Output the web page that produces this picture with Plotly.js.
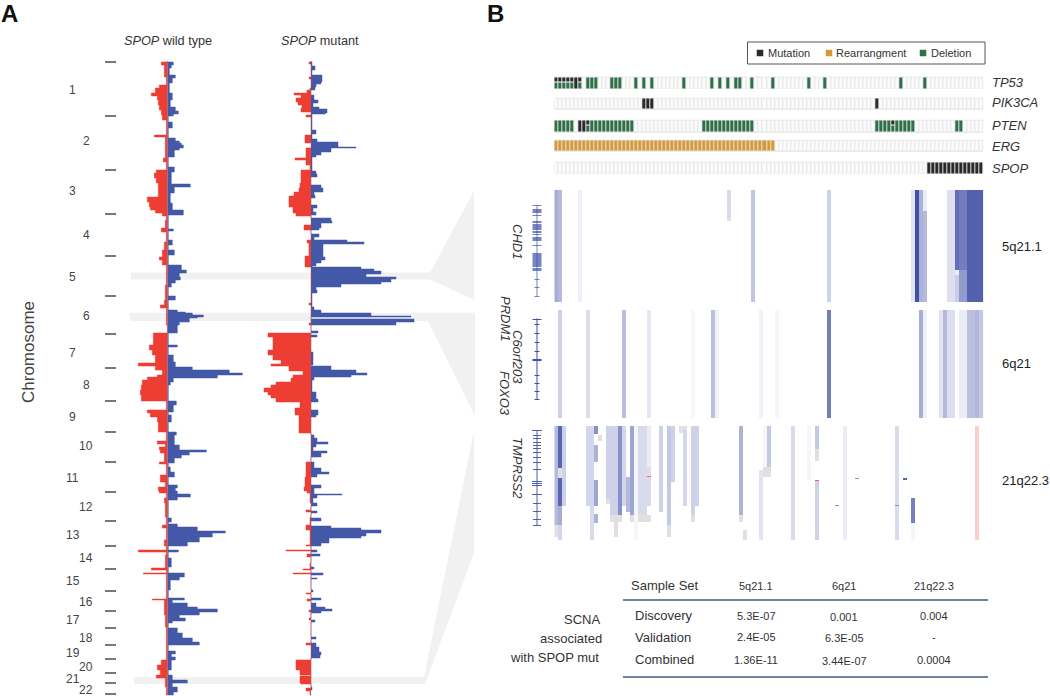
<!DOCTYPE html>
<html><head><meta charset="utf-8">
<script src="https://cdn.plot.ly/plotly-3.0.1.min.js"></script>
<style>html,body{margin:0;padding:0;background:#fff}#g{width:1050px;height:696px}</style>
</head><body><div id="g"></div>
<script>
// ---------- Panel A: SCNA frequency profiles, [genome position, frequency] steps ----------
const chromBoundaries=[62,116,170,214,256,296,334,368,401,432,462,492,521,546,569,591,611,628,645,659,673,683,694];
const chromLabels=['1','2','3','4','5','6','7','8','9','10','11','12','13','14','15','16','17','18','19','20','21','22'];
const chromLabelPos=[90,141,191,235,277,316,353,385,417,446,478,507,535,558,581,602,620,638,653,667,679,690];
const wtAmp=[[61,0],[62,6],[65,4],[68,2],[75,8],[78,5],[83,2],[93,5],[100,3],[107,8],[111,11],[114,6],[116,1],[122,5],[128,1],[138,8],[141,12],[143,14],[145,16],[148,12],[150,7],[157,1],[167,7],[172,4],[184,23],[187,7],[193,3],[203,5],[210,16],[215,1],[229,6],[231,1],[240,5],[245,1],[250,7],[255,1],[265,14],[270,19],[273,12],[277,13],[280,8],[283,4],[287,1],[296,8],[300,1],[310,10],[312,18],[313,25],[315,36],[317,30],[318,22],[322,12],[325,10],[333,1],[345,10],[347,1],[355,6],[362,8],[367,25],[370,62],[373,75],[375,50],[378,6],[382,3],[385,1],[401,9],[405,6],[412,1],[415,4],[422,1],[432,9],[435,7],[445,12],[450,39],[452,22],[455,14],[458,7],[463,1],[467,3],[472,7],[477,1],[485,10],[488,8],[491,10],[494,23],[497,10],[500,1],[518,4],[522,1],[524,10],[527,30],[531,58],[533,45],[537,32],[542,20],[546,1],[550,11],[552,1],[558,4],[567,1],[573,17],[577,12],[580,3],[590,1],[598,17],[600,5],[603,20],[607,30],[609,50],[612,32],[615,12],[618,18],[621,5],[623,1],[628,10],[633,15],[638,25],[642,32],[645,1],[651,8],[654,4],[657,8],[660,4],[670,1],[675,5],[680,20],[683,5],[687,10],[692,6],[695,0]];
const wtDel=[[61,0],[62,6],[65,3],[77,1],[85,8],[88,12],[93,16],[96,10],[100,9],[105,8],[110,6],[115,5],[120,1],[135,13],[137,2],[158,4],[162,1],[170,11],[173,13],[178,11],[183,9],[190,9],[197,20],[202,18],[207,17],[210,12],[213,5],[216,1],[220,2],[228,6],[232,1],[242,3],[250,5],[257,8],[260,5],[265,1],[285,2],[300,3],[305,7],[308,1],[325,0],[333,14],[342,14],[345,18],[350,15],[355,12],[363,29],[366,12],[370,5],[375,10],[377,20],[380,25],[385,26],[390,27],[395,26],[400,26],[401,1],[410,20],[413,17],[417,10],[422,9],[428,9],[432,1],[441,10],[444,2],[447,8],[450,7],[453,3],[462,8],[464,1],[475,7],[478,7],[482,2],[487,9],[491,8],[493,1],[498,3],[503,2],[517,1],[525,5],[528,1],[540,3],[546,1],[550,29],[552,1],[555,2],[568,16],[570,1],[573,24],[574,1],[583,1],[599,15],[600,3],[615,2],[627,1],[645,1],[660,6],[665,10],[670,7],[675,11],[678,2],[687,1],[695,0]];
const mutAmp=[[61,0],[62,1],[66,4],[70,1],[75,11],[82,10],[84,5],[87,4],[90,0],[95,3],[100,7],[103,2],[107,8],[109,16],[113,14],[114,1],[123,1],[130,5],[134,1],[139,6],[142,27],[147,45],[148,20],[152,10],[155,5],[157,1],[171,5],[174,6],[177,0],[185,10],[188,12],[192,3],[195,4],[198,0],[205,6],[208,2],[212,5],[215,0],[218,20],[221,21],[223,10],[228,8],[230,0],[234,8],[237,3],[240,36],[242,53],[244,12],[253,12],[257,14],[260,10],[263,5],[266,1],[267,50],[269,63],[271,70],[274,55],[277,85],[279,80],[282,70],[284,30],[287,5],[290,6],[293,1],[307,3],[310,10],[313,60],[316,100],[317,0],[319,103],[322,85],[325,0],[331,7],[333,0],[335,6],[337,0],[352,2],[365,0],[366,20],[370,45],[373,56],[375,40],[377,3],[380,1],[392,5],[399,7],[402,0],[410,7],[415,5],[417,0],[435,3],[438,6],[442,17],[444,5],[447,2],[451,16],[453,10],[457,0],[462,3],[468,10],[472,18],[474,6],[477,0],[485,10],[488,3],[494,31],[495,6],[498,2],[503,6],[506,0],[511,6],[513,0],[518,10],[521,0],[526,20],[528,50],[530,70],[533,55],[536,50],[538,18],[543,10],[546,0],[550,6],[552,0],[554,9],[556,0],[567,3],[569,0],[573,12],[575,0],[578,6],[579,0],[590,2],[592,0],[598,10],[600,0],[603,5],[607,14],[609,21],[611,10],[613,0],[620,4],[622,0],[637,5],[639,0],[643,5],[647,8],[652,10],[655,9],[658,0],[687,1],[690,0]];
const mutDel=[[61,0],[62,2],[64,0],[77,2],[79,0],[88,1],[90,4],[93,17],[95,10],[98,15],[102,13],[105,9],[108,10],[112,0],[115,5],[117,0],[135,6],[138,6],[143,0],[148,5],[158,16],[160,5],[165,1],[170,10],[183,11],[188,12],[192,17],[196,22],[207,18],[213,15],[216,0],[225,7],[230,0],[240,4],[243,2],[256,6],[267,0],[303,2],[305,0],[323,2],[325,0],[333,43],[337,38],[350,43],[355,38],[360,30],[364,40],[366,22],[371,8],[375,18],[378,20],[382,35],[385,40],[388,47],[392,43],[395,40],[398,35],[402,11],[408,16],[415,12],[432,12],[433,0],[462,5],[470,5],[477,6],[487,7],[491,4],[493,1],[503,0],[510,5],[512,0],[517,1],[525,5],[530,1],[545,5],[546,0],[550,25],[551,0],[554,4],[557,0],[563,1],[569,8],[570,0],[573,18],[574,0],[593,5],[594,0],[599,4],[601,0],[610,2],[612,0],[618,2],[620,0],[643,5],[645,0],[660,15],[663,15],[670,11],[675,0],[676,11],[683,10],[684,0],[688,5],[691,1],[695,0]];

// ---------- Panel B: oncoprint ----------
const genes=['TP53','PIK3CA','PTEN','ERG','SPOP'];
const sampleCount=107;
const mutatedSamples={TP53:[0,1,2,3,4,5,6],PIK3CA:[22,23,24,80],PTEN:[6,7,8,84],ERG:[],SPOP:[93,94,95,96,97,98,99,100,101,102,103,104,105,106]};
const fullMutationSamples={TP53:[5],PIK3CA:[22,23,24,80],PTEN:[6,7],ERG:[],SPOP:[93,94,95,96,97,98,99,100,101,102,103,104,105,106]};
const deletedSamples={TP53:[0,1,2,3,4,6,8,9,10,14,15,16,20,22,24,32,39,41,43,45,46,49,54,63,67,86,92],PIK3CA:[],PTEN:[0,1,2,3,4,8,9,10,11,12,13,14,15,16,17,18,19,37,38,39,40,41,42,43,44,45,46,47,48,49,80,81,82,83,84,85,86,87,88,89,100,101],ERG:[],SPOP:[]};
const rearrangedSamples={ERG:[0,1,2,3,4,5,6,7,8,9,10,11,12,13,14,15,16,17,18,19,20,21,22,23,24,25,26,27,28,29,30,31,32,33,34,35,36,37,38,39,40,41,42,43,44,45,46,47,48,49,50,51,52,53,54]};
const legendNames=['Mutation','Rearrangment','Deletion'];
const legendColors=['#2a2a2c','#d39a35','#2f7049'];

// ---------- Panel B: copy-number segments [sample, rowFrom, rowTo, value] ----------
const rows5q=112, rows6q=108, rows21q=114;
const seg5q=[[0,0,112,.45],[1,0,112,.38],[6,0,112,.08],[43,0,28,.2],[49,0,112,.32],[68,0,112,.25],[89,0,112,.15],[90,0,112,.97],[91,0,112,.42],[92,0,21,.1],[92,21,112,.38],[98,0,112,.17],[99,0,112,.17],[100,0,80,.8],[100,80,85,.1],[100,85,112,.28],[101,0,80,.72],[101,80,112,.55],[102,0,80,.72],[102,80,112,.55],[103,0,112,.88],[104,0,112,.88],[105,0,112,.88],[106,0,112,.88]];
const seg6q=[[1,0,108,.25],[8,0,108,.18],[17,0,108,.35],[23,0,108,.13],[34,0,108,.04],[39,0,108,.35],[40,0,108,.07],[51,0,108,.07],[55,0,108,.05],[68,0,108,.72],[91,0,108,.45],[92,0,108,.08],[96,0,108,.15],[97,0,108,.38],[98,0,108,.18],[99,0,108,.18],[101,0,108,.1],[102,0,108,.1],[103,0,108,.35],[104,0,108,.35],[105,0,108,.4],[106,0,108,.3]];
const seg21q=[[0,0,99,.38],[1,0,42,.85],[1,52,80,.85],[1,80,99,.45],[1,99,114,.22],[2,0,80,.25],[8,0,80,.22],[9,0,80,.22],[9,80,114,.2],[10,0,8,.6],[10,19,36,.42],[10,54,80,.5],[10,88,97,.42],[13,0,73,.25],[14,0,89,.25],[15,0,89,.25],[16,0,89,.6],[17,0,80,.22],[18,51,86,.38],[19,0,89,.5],[20,0,114,.05],[21,0,89,.2],[22,0,89,.2],[23,0,41,.1],[23,50,51,-.7],[23,51,80,.2],[26,0,86,.25],[28,0,99,.3],[29,0,56,.25],[31,0,7,.17],[32,4,80,.22],[34,0,89,.25],[35,0,80,.25],[46,0,89,.42],[51,44,114,.15],[52,0,41,.05],[53,0,41,.3],[59,0,114,.2],[63,0,54,.05],[65,0,23,.3],[65,54,55,-.8],[65,55,114,.25],[70,79,80,.6],[72,0,114,.1],[75,52,53,.6],[85,0,114,.2],[85,79,80,.6],[87,52,54,.85],[89,72,97,.7],[89,97,114,.05],[105,0,114,-.25]];
const noData5q=[[43,28,31]];
const noData21q=[[0,99,111],[1,42,52],[11,9,15],[13,73,78],[14,89,96],[15,89,111],[16,89,96],[19,89,96],[21,89,96],[22,89,96],[23,41,50],[23,89,96],[28,99,111],[32,0,4],[34,89,96],[46,89,96],[47,104,114],[52,41,51],[53,41,51],[65,23,35]];

// ---------- Gene models: exon positions in panel rows ----------
const exons5q=[15,19,20,21,22,25,31,32,34,35,36,37,38,39,41,42,44,47,48,49,50,55,63,64,65,66,67,68,69,70,71,72,73,74,75,76,78,79,80];
const exons5qSmall=[89,97,106];
const exons6q=[14,23,32,41,65,73,81,89];
const exons6qLarge=[9,49,50];
const exons21q=[9,12,16,19,22,26,31,36,43,77,85,93,99];
const exons21qLarge=[4,55,57,59,68];

// ---------- Table ----------
const tableColumns=['5q21.1','6q21','21q22.3'];
const tableRows=['Discovery','Validation','Combined'];
const tableValues=[['5.3E-07','0.001','0.004'],['2.4E-05','6.3E-05','-'],['1.36E-11','3.44E-07','0.0004']];

// ---------- build ----------
const W=1050,H=696;
const BLUE='#4358a6',RED='#ee3d33';
const fx=p=>p/W, fy=p=>1-p/H;

function profile(steps,sign,color,xa,name){
  return {type:'scatter',mode:'lines',name,showlegend:false,hoverinfo:'skip',xaxis:xa,yaxis:'y',
    x:steps.map(s=>sign*s[1]),y:steps.map(s=>s[0]),fill:'tozerox',fillcolor:color,
    line:{color:color,width:.5,shape:'vh'}};
}
const traces=[
  profile(wtAmp,1,BLUE,'x','SPOP wild type gain'),profile(wtDel,-1,RED,'x','SPOP wild type loss'),
  profile(mutAmp,1,BLUE,'x2','SPOP mutant gain'),profile(mutDel,-1,RED,'x2','SPOP mutant loss')];

// oncoprint: every gene track is upper part, seam, lower part
const trackEdges=[[76.7,89],[97.3,109.3],[120,132.3],[140,151.7],[161.7,174]];
const backEdges=[],backZ=[],cellEdges=[],cellZ=[];
trackEdges.forEach((t,gi)=>{
  const g=genes[gi],top=t[0]+.8,bot=t[1]-.8,a=top+3.6;
  backEdges.push(t[0],t[1]); backZ.push([1]); if(gi<4)backZ.push([null]);
  cellEdges.push(top,a,a+1.2,bot);
  const up=[],mid=[],lo=[];
  for(let i=0;i<sampleCount;i++){
    const m=mutatedSamples[g].includes(i),full=fullMutationSamples[g].includes(i),d=deletedSamples[g].includes(i),
      r=(rearrangedSamples[g]||[]).includes(i);
    let u=0,c=0,l=0;
    if(r){u=c=l=2}
    else if(full){u=c=l=1}
    else if(m&&d){u=1;c=4;l=3}
    else if(d){u=c=l=3}
    up.push(u);mid.push(c);lo.push(l);
  }
  cellZ.push(up,mid,lo);
  if(gi<4)cellZ.push(new Array(sampleCount).fill(null));
});
const sampleEdges=[];for(let i=0;i<=sampleCount;i++)sampleEdges.push(i-.5);
traces.push({type:'heatmap',xaxis:'x3',yaxis:'y3',x:[-.5,sampleCount-.5],y:backEdges,z:backZ,showscale:false,hoverinfo:'skip',
  zmin:0,zmax:1,colorscale:[[0,'#e4e4e6'],[1,'#e4e4e6']]});
traces.push({type:'heatmap',xaxis:'x3',yaxis:'y3',x:sampleEdges,y:cellEdges,z:cellZ,xgap:1,showscale:false,hoverinfo:'skip',
  zmin:0,zmax:4,colorscale:[[0,'#fbfbfb'],[.125,'#fbfbfb'],[.125,legendColors[0]],[.375,legendColors[0]],[.375,legendColors[1]],[.625,legendColors[1]],[.625,legendColors[2]],[.875,legendColors[2]],[.875,'#ffffff'],[1,'#ffffff']]});

function cnMatrix(segs,n){
  const z=[];for(let r=0;r<n;r++)z.push(new Array(sampleCount).fill(0));
  segs.forEach(s=>{for(let r=s[1];r<s[2]&&r<n;r++)z[r][s[0]]=s[3];});
  return z;
}
function greyMatrix(segs,n){
  const z=[];for(let r=0;r<n;r++)z.push(new Array(sampleCount).fill(null));
  segs.forEach(s=>{for(let r=s[1];r<s[2]&&r<n;r++)z[r][s[0]]=1;});
  return z;
}
[[seg5q,noData5q,rows5q,'y4'],[seg6q,[],rows6q,'y5'],[seg21q,noData21q,rows21q,'y6']].forEach(p=>{
  traces.push({type:'heatmap',xaxis:'x3',yaxis:p[3],z:cnMatrix(p[0],p[2]),showscale:false,hoverinfo:'skip',zmin:-1,zmax:1,
    colorscale:[[0,'#ee3a33'],[.5,'#ffffff'],[1,'#3b4aa2']]});
  if(p[1].length)traces.push({type:'heatmap',xaxis:'x3',yaxis:p[3],z:greyMatrix(p[1],p[2]),showscale:false,hoverinfo:'skip',zmin:0,zmax:1,
    colorscale:[[0,'#e0e0e0'],[1,'#e0e0e0']]});
});

function geneModel(ya,span,small,large,smallW,largeW,lineW){
  const x=[0,0,null],y=[span[0],span[1],null];
  small.forEach(r=>{x.push(-smallW,smallW,null);y.push(r,r,null);});
  large.forEach(r=>{x.push(-largeW,largeW,null);y.push(r,r,null);});
  return {type:'scatter',mode:'lines',xaxis:'x4',yaxis:ya,x,y,showlegend:false,hoverinfo:'skip',connectgaps:false,
    line:{color:'#3d4fa6',width:lineW}};
}
traces.push(geneModel('y4',[15,106],exons5q,exons5qSmall,4.5,2.5,.7));
traces.push(geneModel('y5',[8,89],exons6q,exons6qLarge,2.5,4.5,1));
traces.push(geneModel('y6',[4,99],exons21q,exons21qLarge,4,5,.9));

// legend
const legendSwatchX=[760,829,923], legendTextX=[766,834,929];
traces.push({type:'scatter',mode:'markers',xaxis:'x3',yaxis:'y3',showlegend:false,hoverinfo:'skip',
  x:legendSwatchX.map(p=>(p-554.3)/(429/107)-.5),y:legendSwatchX.map(()=>53),
  cliponaxis:false,marker:{symbol:'square',size:6.5,color:legendColors}});

// annotations
const ann=[];
function note(text,x,y,o={}){
  ann.push(Object.assign({text,x:fx(x),y:fy(y),xref:'paper',yref:'paper',showarrow:false,xanchor:'center',yanchor:'middle',
    font:{size:12,color:'#333'},align:'center'},o));
}
legendNames.forEach((n,i)=>note(n,legendTextX[i],53,{xanchor:'left',font:{size:11,color:'#333'}}));
note('<b>A</b>',9,13.5,{font:{size:24,color:'#111'}});
note('<b>B</b>',495,13.5,{font:{size:24,color:'#111'}});
note('<i>SPOP</i> wild type',168,41,{font:{size:12.7,color:'#333'}});
note('<i>SPOP</i> mutant',319.5,41,{font:{size:12.7,color:'#333'}});
note('Chromosome',28,352,{textangle:-90,font:{size:17,color:'#444'}});
chromLabels.forEach((t,i)=>{
  ann.push({text:t,x:fx(i%2?86:72.5),xref:'paper',y:chromLabelPos[i],yref:'y',showarrow:false,xanchor:'center',yanchor:'middle',font:{size:12,color:'#444'}});
});
const geneY=[83,103,126,146,168];
genes.forEach((g,i)=>note('<i>'+g+'</i>',989.5,geneY[i],{xanchor:'left',font:{size:13,color:'#333'}}));
[['CHD1',518,241],['C6orf203',518,357],['PRDM1',505,319],['FOXO3',505,393],['TMPRSS2',518,468]].forEach(l=>
  note('<i>'+l[0]+'</i>',l[1],l[2],{textangle:90,font:{size:13,color:'#333'}}));
note(tableColumns[0],1000,246.5,{xanchor:'left',font:{size:13,color:'#222'}});
note(tableColumns[1],1000,363.5,{xanchor:'left',font:{size:13,color:'#222'}});
note(tableColumns[2],1000,480,{xanchor:'left',font:{size:13,color:'#222'}});
note('Sample Set',629,585,{xanchor:'left',font:{size:13,color:'#333'}});
const colX=[756,844,934], rowY=[615.5,637,660];
tableColumns.forEach((c,i)=>note(c,colX[i],586,{font:{size:11,color:'#333'}}));
tableRows.forEach((r,i)=>{
  note(r,633,[615,637,659][i],{xanchor:'left',font:{size:13,color:'#333'}});
  tableValues[i].forEach((v,j)=>note(v,colX[j],rowY[i]+(j==1?1:0),{font:{size:11,color:'#333'}}));
});
note('SCNA',602,619,{xanchor:'right',font:{size:13,color:'#333'}});
note('associated',604,638,{xanchor:'right',font:{size:13,color:'#333'}});
note('with SPOP mut',601,657,{xanchor:'right',font:{size:13,color:'#333'}});

// zoom bands and table rules
function poly(pts){
  const d='M'+pts.map(p=>fx(p[0])+','+fy(p[1])).join('L')+'Z';
  return {type:'path',path:d,xref:'paper',yref:'paper',fillcolor:'#f1f1f1',line:{width:0},layer:'below'};
}
const shapes=[
  poly([[131,272.5],[430,272.5],[474,191],[474,300],[430,279.5],[131,279.5]]),
  poly([[130,312.7],[475,312.7],[475,416],[428,321],[130,321]]),
  poly([[134,677],[424,677],[474,431],[474,553],[425,684],[134,684]]),
  {type:'rect',xref:'paper',yref:'paper',x0:fx(747.5),x1:fx(985),y0:fy(42),y1:fy(64),line:{color:'#555',width:1},fillcolor:'rgba(0,0,0,0)'},
  {type:'line',xref:'paper',yref:'paper',x0:fx(623),x1:fx(988),y0:fy(600),y1:fy(600),line:{color:'#71849a',width:2}},
  {type:'line',xref:'paper',yref:'paper',x0:fx(623),x1:fx(988),y0:fy(677),y1:fy(677),line:{color:'#71849a',width:2}}
];

const hidden={visible:false,fixedrange:true};
const layout={
  width:W,height:H,margin:{l:0,r:0,t:0,b:0},paper_bgcolor:'#fff',plot_bgcolor:'rgba(0,0,0,0)',
  font:{family:'"Liberation Sans",Arial,sans-serif',color:'#333'},
  hovermode:false,annotations:ann,shapes,showlegend:false,
  xaxis:Object.assign({},hidden,{domain:[fx(107.3),fx(287.3)],range:[-60,120],anchor:'y'}),
  xaxis2:Object.assign({},hidden,{domain:[fx(251),fx(431)],range:[-60,120],anchor:'y'}),
  yaxis:{domain:[0,1],range:[H,0],anchor:'free',position:fx(116),side:'left',tickmode:'array',tickvals:chromBoundaries,
    ticktext:chromBoundaries.map(()=>''),ticks:'outside',ticklen:11,tickwidth:1.5,tickcolor:'#777',showline:false,showgrid:false,zeroline:false,showticklabels:false,fixedrange:true},
  xaxis3:Object.assign({},hidden,{domain:[fx(554.3),fx(983.3)],range:[-.5,sampleCount-.5],anchor:'y3'}),
  yaxis3:Object.assign({},hidden,{domain:[fy(176),fy(40)],range:[176,40],anchor:'x3'}),
  yaxis4:Object.assign({},hidden,{domain:[fy(302),fy(190)],range:[rows5q-.5,-.5],anchor:'x3'}),
  yaxis5:Object.assign({},hidden,{domain:[fy(418),fy(310)],range:[rows6q-.5,-.5],anchor:'x3'}),
  yaxis6:Object.assign({},hidden,{domain:[fy(540),fy(426)],range:[rows21q-.5,-.5],anchor:'x3'}),
  xaxis4:Object.assign({},hidden,{domain:[fx(522),fx(552)],range:[-15,15],anchor:'y4'})
};
Plotly.newPlot('g',traces,layout,{displayModeBar:false,staticPlot:true});
</script></body></html>
